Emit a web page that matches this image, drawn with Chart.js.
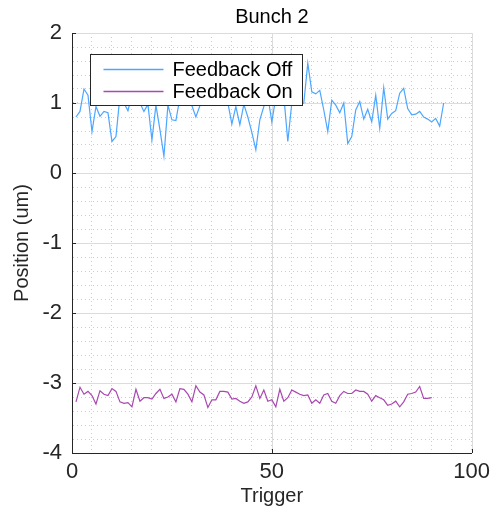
<!DOCTYPE html>
<html lang="en">
<head>
<meta charset="UTF-8">
<title>Bunch 2</title>
<script src="https://cdn.jsdelivr.net/npm/chart.js"></script>
<style>
    body { margin: 0; background: #fff; }
    .grafico { width: 496px; height: 511px; }
</style>
</head>
<body>
<div class="grafico"><canvas id="grafico"></canvas></div>

<script>
    // position per trigger, um
    const feedbackOff = [
        0.80, 0.88, 1.20, 1.11, 0.59, 0.95, 0.81, 0.88, 0.86, 0.45,
        0.52, 1.10, 1.00, 0.89, 1.12, 1.06, 1.00, 0.88, 0.98, 0.47,
        0.97, 0.62, 0.24, 0.97, 0.76, 0.75, 1.08, 1.15, 1.06, 0.96,
        0.80, 0.96, 1.12, 1.06, 1.22, 1.10, 1.05, 1.15, 1.00, 0.70,
        0.95, 0.69, 0.98, 0.80, 0.58, 0.33, 0.76, 0.95, 1.10, 0.73,
        1.08, 1.25, 1.10, 0.45, 1.00, 0.98, 0.98, 1.00, 1.57, 1.16,
        1.13, 1.18, 0.90, 0.59, 1.04, 0.97, 0.86, 1.00, 0.42, 0.52,
        0.90, 1.02, 0.77, 0.91, 0.73, 1.11, 0.64, 1.22, 0.77, 0.85,
        0.89, 1.14, 1.21, 0.92, 0.83, 0.84, 0.88, 0.80, 0.77, 0.73,
        0.78, 0.67, 1.00
    ];
    const feedbackOn = [
        -3.27, -3.06, -3.16, -3.12, -3.18, -3.30, -3.11, -3.16, -3.18, -3.08,
        -3.12, -3.27, -3.29, -3.28, -3.34, -3.09, -3.26, -3.21, -3.21, -3.23,
        -3.15, -3.09, -3.22, -3.20, -3.16, -3.27, -3.08, -3.09, -3.16, -3.27,
        -3.04, -3.13, -3.17, -3.35, -3.24, -3.24, -3.12, -3.12, -3.13, -3.23,
        -3.22, -3.26, -3.29, -3.27, -3.20, -3.04, -3.22, -3.10, -3.26, -3.24,
        -3.34, -3.09, -3.26, -3.21, -3.10, -3.13, -3.16, -3.18, -3.17, -3.29,
        -3.24, -3.29, -3.17, -3.15, -3.26, -3.29, -3.18, -3.12, -3.15, -3.15,
        -3.10, -3.12, -3.12, -3.16, -3.26, -3.18, -3.21, -3.24, -3.32, -3.30,
        -3.26, -3.34, -3.27, -3.16, -3.15, -3.13, -3.05, -3.22, -3.22, -3.21
    ];
    const xLabels = [0, 50, 100];
    const yLabels = [-4, -3, -2, -1, 0, 1, 2];

    const fonte = '"Liberation Sans", Helvetica, Arial, sans-serif';
    const corTexto = '#262626';

    function pontos(serie) {
        return serie.map((v, i) => ({ x: i + 1, y: v }));
    }

    // solid major grid, inward ticks and the boxed legend
    const extras = {
        id: 'extras',
        beforeDatasetsDraw(chart) {
            const { ctx, chartArea: a, scales: { x, y } } = chart;
            ctx.save();
            ctx.strokeStyle = '#dcdcdc';
            ctx.lineWidth = 1;
            ctx.beginPath();
            xLabels.forEach(v => {
                if (v === x.min) return;
                const px = Math.round(x.getPixelForValue(v)) + 0.5;
                ctx.moveTo(px, a.top);
                ctx.lineTo(px, a.bottom);
            });
            yLabels.forEach(v => {
                if (v === y.min) return;
                const py = Math.round(y.getPixelForValue(v)) + 0.5;
                ctx.moveTo(a.left, py);
                ctx.lineTo(a.right, py);
            });
            ctx.stroke();

            ctx.strokeStyle = corTexto;
            ctx.beginPath();
            yLabels.forEach(v => {
                const py = Math.round(y.getPixelForValue(v)) + 0.5;
                ctx.moveTo(a.left, py);
                ctx.lineTo(a.left + 4, py);
            });
            xLabels.forEach(v => {
                const px = Math.round(x.getPixelForValue(v)) + 0.5;
                ctx.moveTo(px, a.bottom);
                ctx.lineTo(px, a.bottom - 4);
            });
            ctx.stroke();
            ctx.restore();
        },
        afterDatasetsDraw(chart) {
            const { ctx, chartArea: a } = chart;
            const sets = chart.data.datasets;
            ctx.save();
            ctx.font = '20px ' + fonte;
            const larguraTexto = Math.max(...sets.map(d => ctx.measureText(d.label).width));
            const left = Math.round(a.left + 18) + 0.5;
            const top = Math.round(a.top + 21) + 0.5;
            const w = Math.round(13 + 60 + 9 + larguraTexto + 10);
            const h = 51;

            ctx.fillStyle = '#fff';
            ctx.fillRect(left, top, w, h);
            ctx.strokeStyle = '#262626';
            ctx.lineWidth = 1;
            ctx.strokeRect(left, top, w, h);

            sets.forEach((d, i) => {
                const yy = top + 15 + i * 22;
                ctx.strokeStyle = d.borderColor;
                ctx.lineWidth = 1.5;
                ctx.beginPath();
                ctx.moveTo(left + 13, yy);
                ctx.lineTo(left + 73, yy);
                ctx.stroke();
                ctx.fillStyle = '#000';
                ctx.textBaseline = 'middle';
                ctx.fillText(d.label, left + 82, yy + 1);
            });
            ctx.restore();
        }
    };

    const data = {
        datasets: [
            {
                label: 'Feedback Off',
                data: pontos(feedbackOff),
                borderColor: '#4da6ff',
                borderWidth: 1.2,
                pointRadius: 0,
                tension: 0
            },
            {
                label: 'Feedback On',
                data: pontos(feedbackOn),
                borderColor: '#a848b0',
                borderWidth: 1.2,
                pointRadius: 0,
                tension: 0
            }
        ]
    };

    const config = {
        type: 'line',
        data: data,
        options: {
            responsive: true,
            maintainAspectRatio: false,
            animation: false,
            layout: { padding: { left: 0, right: 24, top: 0, bottom: 0 } },
            plugins: {
                legend: { display: false },
                tooltip: { enabled: false },
                title: {
                    display: true,
                    fullSize: false,
                    text: 'Bunch 2',
                    color: '#000',
                    font: { family: fonte, size: 20, weight: 'normal' },
                    padding: { top: 5, bottom: 4 }
                }
            },
            scales: {
                x: {
                    type: 'linear',
                    min: 0,
                    max: 100,
                    afterFit: s => { s.height = 58; },
                    ticks: {
                        stepSize: 5,
                        autoSkip: false,
                        maxRotation: 0,
                        padding: 6,
                        color: corTexto,
                        font: { family: fonte, size: 22 },
                        callback: v => xLabels.includes(v) ? v : ''
                    },
                    grid: { color: 'rgba(0,0,0,0.2)', drawTicks: false },
                    border: { color: corTexto, width: 1, dash: [1, 3] },
                    title: {
                        display: true,
                        text: 'Trigger',
                        color: corTexto,
                        font: { family: fonte, size: 20 },
                        padding: { top: 0, bottom: 3 }
                    }
                },
                y: {
                    min: -4,
                    max: 2,
                    afterFit: s => { s.width = 72; },
                    ticks: {
                        stepSize: 0.2,
                        autoSkip: false,
                        padding: 10,
                        color: corTexto,
                        font: { family: fonte, size: 22 },
                        callback: v => {
                            const r = Math.round(v);
                            return Math.abs(v - r) < 1e-6 && yLabels.includes(r) ? r : '';
                        }
                    },
                    grid: { color: 'rgba(0,0,0,0.2)', drawTicks: false },
                    border: { color: corTexto, width: 1, dash: [1, 3] },
                    title: {
                        display: true,
                        text: 'Position (um)',
                        color: corTexto,
                        font: { family: fonte, size: 20 },
                        padding: { top: 10, bottom: 0 }
                    }
                }
            }
        },
        plugins: [extras]
    };

    let myChart = new Chart(document.getElementById('grafico'), config);
</script>
</body>
</html>
